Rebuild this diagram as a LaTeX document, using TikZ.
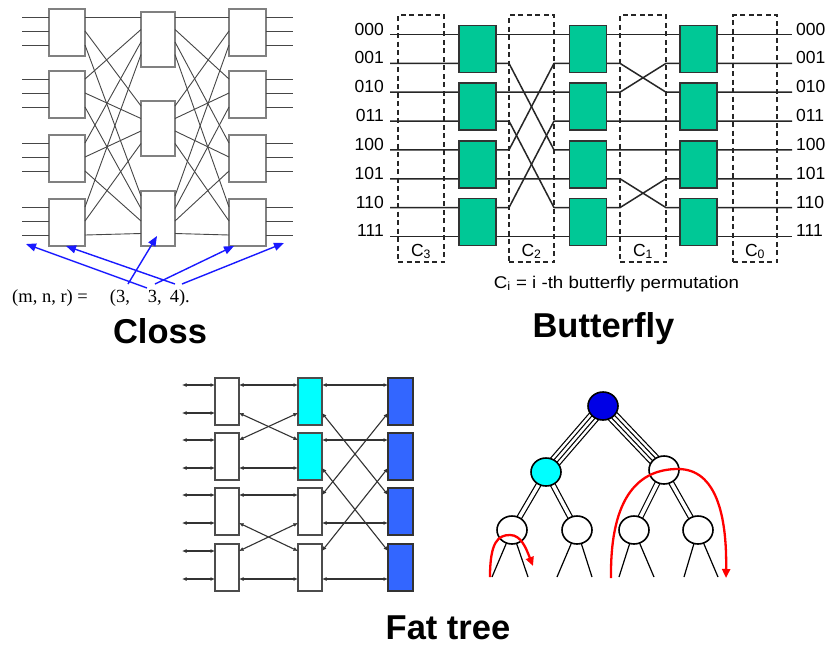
\documentclass[tikz,border=0pt]{standalone}
\usepackage{graphicx}
\usepackage{fontspec}
\setmainfont{Liberation Sans}
\newfontfamily\serifrm{Liberation Serif}
\usetikzlibrary{arrows.meta,backgrounds,shapes.geometric}
\definecolor{bfgreen}{RGB}{0,200,150}
\definecolor{ftblue}{RGB}{51,102,255}
\definecolor{ftcyan}{RGB}{0,255,255}
\definecolor{rootblue}{RGB}{0,0,230}
\definecolor{arrowblue}{RGB}{25,25,255}
\definecolor{boxgray}{RGB}{128,128,128}
\definecolor{linegray}{RGB}{70,70,70}
\tikzset{
 closbox/.style={draw=boxgray, line width=1.4pt, fill=white, inner sep=0pt, outer sep=0pt},
 closline/.style={draw=linegray, line width=0.9pt},
 bluearrow/.style={draw=arrowblue, line width=1.4pt, -{Triangle[length=10pt,width=8pt]}},
 lbl/.style={font=\fontsize{17.5}{20}\selectfont, inner sep=0pt},
 dashbox/.style={draw=black!85, dash pattern=on 5pt off 3.5pt, line width=1.4pt, inner sep=0pt, outer sep=0pt},
 bfline/.style={draw=black!85, line width=1.5pt, line join=round},
 greenbox/.style={draw=black!80, fill=bfgreen, line width=1.5pt, minimum width=37pt, minimum height=47pt, inner sep=0pt, outer sep=0pt},
 ftbox/.style={draw=black!70, line width=1.5pt, minimum width=24pt, minimum height=47pt, inner sep=0pt, outer sep=0pt},
 ftarrow/.style={draw=black!80, line width=1.1pt, {Latex[length=4.5pt,width=4pt]}-{Latex[length=4.5pt,width=4pt]}},
 tnode/.style={ellipse, draw=black, line width=1.6pt, minimum width=30pt, minimum height=28pt, inner sep=0pt, fill=white},
 redarrow/.style={draw=red, line width=2.3pt, -{Triangle[length=9pt,width=8pt]}},
 title/.style={font=\fontsize{34.5}{40}\selectfont\bfseries, inner sep=0pt},
}
\begin{document}
\begin{tikzpicture}[x=1pt,y=-1pt]
\begin{scope}[on background layer]
\fill[white] (0,0) rectangle (828,646);
\end{scope}
\useasboundingbox (0,0) rectangle (828,646);

% ---------------- Clos ----------------
\foreach \i/\yc in {1/32.5,2/94.5,3/158.5,4/222.5}{
 \node[closbox, minimum width=36pt, minimum height=47pt] (CL\i) at (67,\yc) {};
 \node[closbox, minimum width=37pt, minimum height=47pt] (CR\i) at (247.5,\yc) {};
}
\foreach \j/\yc in {1/39.5,2/128.5,3/218.5}{
 \node[closbox, minimum width=34pt, minimum height=55pt] (CM\j) at (158,\yc) {};
}
\foreach \i in {1,...,4}{
 \foreach \j [evaluate=\j as \lo using 8+14*(\j-1)] in {1,2,3}{
  \draw[closline] ([yshift=-\lo]CL\i.north west) -- ++(-27,0);
  \draw[closline] ([yshift=-\lo]CR\i.north east) -- ++(27,0);
 }
}
\foreach \i [evaluate=\i as \mo using 5+12.5*(\i-1)] in {1,...,4}{
 \foreach \j [evaluate=\j as \lo using 8+14*(\j-1)] in {1,2,3}{
  \draw[closline] ([yshift=-\lo]CL\i.north east) -- ([yshift=-\mo]CM\j.north west);
  \draw[closline] ([yshift=-\mo]CM\j.north east) -- ([yshift=-\lo]CR\i.north west);
 }
}
\node[anchor=base west, inner sep=0pt, font=\serifrm\fontsize{18.5}{20}\selectfont] (mnr) at (12,302) {(m, n, r) =\hspace{22pt}(3,\hspace{18pt}3,\hspace{8pt}4).};
\coordinate (b1s) at (147,288); \coordinate (b1e) at (26,244);
\coordinate (b2s) at (175,284); \coordinate (b2e) at (66,246);
\coordinate (b3s) at (128,284); \coordinate (b3e) at (157,236);
\coordinate (b4s) at (155,284); \coordinate (b4e) at (234,246);
\coordinate (b5s) at (182,284); \coordinate (b5e) at (284,243);
\foreach \n in {1,...,5}{\draw[bluearrow] (b\n s) -- (b\n e);}
\node[title, anchor=base] (tClos) at (160,343) {Closs};

% ---------------- Butterfly ----------------
\node[dashbox, minimum width=46pt, minimum height=247pt] (C3b) at (421,138.5) {};
\node[dashbox, minimum width=45pt, minimum height=247pt] (C2b) at (531.5,138.5) {};
\node[dashbox, minimum width=46pt, minimum height=247pt] (C1b) at (643,138.5) {};
\node[dashbox, minimum width=44pt, minimum height=247pt] (C0b) at (755,138.5) {};
\foreach \k/\bits in {0/000,1/001,2/010,3/011,4/100,5/101,6/110,7/111}{
 \pgfmathsetmacro\yy{34.5+28.85*\k}
 \coordinate (bL\k) at (390,\yy);
 \coordinate (bR\k) at (792,\yy);
 \node[lbl, anchor=base east] (labL\k) at (384,\yy+0.5) {\bits};
 \node[lbl, anchor=base west] (labR\k) at (796,\yy+0.5) {\bits};
}
\foreach \k/\p/\q in {0/0/0,1/4/4,2/2/1,3/6/5,4/1/2,5/5/6,6/3/3,7/7/7}{
 \draw[bfline] (bL\k) -- (C2b.west |- bL\k) -- (C2b.east |- bL\p) -- (C1b.west |- bL\p) -- (C1b.east |- bL\q) -- (bR\q);
}
\foreach \c/\xx in {1/477.5,2/588,3/698.5}{
 \foreach \bb in {0,...,3}{
  \pgfmathsetmacro\yy{34.5+28.85*(2*\bb+0.5)}
  \node[greenbox] (G\c\bb) at (\xx,\yy) {};
 }
}
\node[lbl, anchor=base] (lC3) at ([yshift=6]C3b.south) {C\textsubscript{3}};
\node[lbl, anchor=base] (lC2) at ([yshift=6]C2b.south) {C\textsubscript{2}};
\node[lbl, anchor=base] (lC1) at ([yshift=6]C1b.south) {C\textsubscript{1}};
\node[lbl, anchor=base] (lC0) at ([yshift=6]C0b.south) {C\textsubscript{0}};
\node[anchor=base, inner sep=0pt, font=\fontsize{17}{20}\selectfont] (capt) at (616.5,288) {\scalebox{1.1}[1]{C\textsubscript{i} = i -th butterfly permutation}};
\node[title, anchor=base] (tBut) at (603.5,337) {Butterfly};

% ---------------- Fat tree (switches) ----------------
\foreach \bb/\t/\fc in {1/378/ftcyan,2/433/ftcyan,3/488/white,4/544/white}{
 \node[ftbox, fill=white] (FA\bb) at (227,\t+23.5) {};
 \node[ftbox, fill=\fc] (FB\bb) at (310,\t+23.5) {};
 \node[ftbox, fill=ftblue, minimum width=25pt, draw=black!80] (FC\bb) at (400.5,\t+23.5) {};
}
\foreach \bb in {1,...,4}{
 \draw[ftarrow] ([yshift=-7]FA\bb.north west) -- ++(-33,0);
 \draw[ftarrow] ([yshift=-35]FA\bb.north west) -- ++(-33,0);
}
\foreach \u/\v in {1/2,3/4}{
 \draw[ftarrow] ([yshift=-7]FA\u.north east) -- ([yshift=-7]FB\u.north west);
 \draw[ftarrow] ([yshift=-35]FA\u.north east) -- ([yshift=-7]FB\v.north west);
 \draw[ftarrow] ([yshift=-7]FA\v.north east) -- ([yshift=-35]FB\u.north west);
 \draw[ftarrow] ([yshift=-35]FA\v.north east) -- ([yshift=-35]FB\v.north west);
}
\foreach \sb/\sp/\tb/\tp in {1/7/1/7,1/35/3/7,2/7/2/7,2/35/4/7,3/7/1/35,3/35/3/35,4/7/2/35,4/35/4/35}{
 \draw[ftarrow] ([yshift=-\sp]FB\sb.north east) -- ([yshift=-\tp]FC\tb.north west);
}

% ---------------- Fat tree (tree) ----------------
\node[tnode, fill=rootblue] (root) at (603,406) {};
\node[tnode, fill=ftcyan] (n2a) at (546,472) {};
\node[tnode] (n2b) at (664,470) {};
\node[tnode] (n3a) at (512,530) {};
\node[tnode] (n3b) at (577,530) {};
\node[tnode] (n3c) at (634,530) {};
\node[tnode] (n3d) at (698,530) {};
\foreach \n/\xx in {1/492,2/528,3/557,4/592,5/619,6/654,7/684,8/718}{
 \coordinate (lf\n) at (\xx,577);
}
\begin{scope}[on background layer]
 \foreach \na/\nb in {root/n2a,root/n2b}{
  \draw[line width=1.2pt, double=white, double distance=9.9pt] (\na.center) -- (\nb.center);
  \draw[line width=1.2pt, double=white, double distance=2.5pt] (\na.center) -- (\nb.center);
 }
 \foreach \na/\nb in {n2a/n3a,n2a/n3b,n2b/n3c,n2b/n3d}{
  \draw[line width=1.2pt, double=white, double distance=3.6pt] (\na.center) -- (\nb.center);
 }
 \foreach \na/\la/\lb in {n3a/1/2,n3b/3/4,n3c/5/6,n3d/7/8}{
  \draw[line width=1.2pt] (\na.center) -- (lf\la);
  \draw[line width=1.2pt] (\na.center) -- (lf\lb);
 }
\end{scope}
\coordinate (r1s) at (490,577); \coordinate (r1e) at (533,566);
\draw[redarrow] (r1s) .. controls (490,542) and (498,535) .. (510,535) .. controls (521,535) and (526,548) .. (r1e);
\coordinate (r2s) at (611,578); \coordinate (r2e) at (726,578);
\draw[redarrow] (r2s) .. controls (610,495) and (640,469) .. (678,469) .. controls (716,469) and (727,515) .. (r2e);
\node[title, anchor=base] (tFat) at (448,639) {Fat tree};
\end{tikzpicture}
\end{document}
